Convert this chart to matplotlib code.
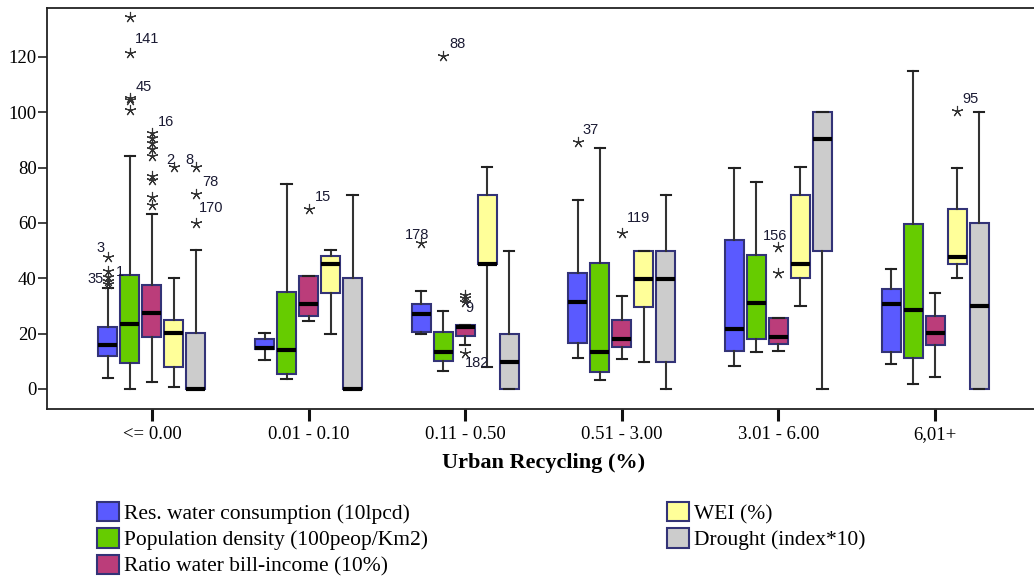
import numpy as np
import matplotlib
matplotlib.use("Agg")
import matplotlib.pyplot as plt
from matplotlib.patches import Patch

categories = ["<= 0.00", "0.01 - 0.10", "0.11 - 0.50", "0.51 - 3.00", "3.01 - 6.00", "6,01+"]
series_names = ["Res. water consumption (10lpcd)", "Population density (100peop/Km2)",
                "Ratio water bill-income (10%)", "WEI (%)", "Drought (index*10)"]

# box stats per series, one value per category: whisker low, q1, median, q3, whisker high
res_lo = [4.0, 10.5, 19.8, 11.1, 8.4, 9.0]
res_q1 = [12.0, 14.3, 20.5, 16.5, 13.8, 13.3]
res_med = [15.8, 14.7, 27.2, 31.6, 21.6, 30.6]
res_q3 = [22.5, 18.1, 30.7, 41.8, 53.8, 36.3]
res_hi = [36.4, 20.1, 35.5, 68.3, 80.0, 43.5]

pop_lo = [0.0, 3.5, 6.5, 3.3, 13.5, 1.7]
pop_q1 = [9.5, 5.3, 10.1, 6.3, 18.0, 11.1]
pop_med = [23.5, 14.2, 13.5, 13.2, 31.2, 28.6]
pop_q3 = [41.2, 34.9, 20.5, 45.7, 48.4, 59.5]
pop_hi = [84.2, 74.0, 28.3, 87.0, 74.8, 115.0]

bill_lo = [2.5, 24.6, 15.9, 10.7, 13.7, 4.5]
bill_q1 = [18.9, 26.5, 19.2, 15.1, 16.3, 15.8]
bill_med = [27.4, 30.8, 22.5, 18.1, 18.7, 20.4]
bill_q3 = [37.6, 40.8, 23.1, 24.9, 25.5, 26.5]
bill_hi = [63.1, 40.8, 23.1, 33.6, 25.5, 34.7]

wei_lo = [0.8, 20.0, 8.1, 9.9, 30.0, 40.0]
wei_q1 = [7.8, 34.8, 45.1, 29.8, 40.0, 45.1]
wei_med = [20.1, 45.1, 45.1, 39.9, 45.2, 47.6]
wei_q3 = [24.9, 48.1, 70.1, 50.0, 70.0, 65.1]
wei_hi = [40.1, 50.1, 80.2, 50.0, 80.1, 80.0]

dro_lo = [0.0, 0.0, 0.0, 0.0, 0.0, 0.0]
dro_q1 = [0.0, 0.0, 0.0, 9.9, 50.0, 0.0]
dro_med = [0.0, 0.0, 9.9, 39.9, 90.2, 30.0]
dro_q3 = [20.1, 40.0, 19.9, 50.0, 100.0, 59.9]
dro_hi = [50.2, 70.1, 50.0, 70.0, 100.0, 100.0]

# extreme values: category index, series index, value, case label
out_group = [0, 0, 0, 0, 0,
             0, 0, 0, 0, 0,
             0, 0, 0, 0, 0, 0, 0, 0, 0,
             0, 0, 0, 0,
             1, 2, 2, 2, 2, 2, 2,
             3, 3, 4, 4, 5]
out_series = [0, 0, 0, 0, 0,
              1, 1, 1, 1, 1,
              2, 2, 2, 2, 2, 2, 2, 2, 2,
              3, 4, 4, 4,
              2, 0, 1, 2, 2, 2, 2,
              0, 2, 2, 2, 3]
out_value = [47.8, 42.8, 40.6, 39.0, 37.8,
             134.3, 121.3, 105.2, 104.3, 100.8,
             92.4, 90.6, 88.8, 86.7, 84.2, 77.0, 75.5, 69.5, 66.5,
             80.1, 80.3, 70.5, 60.1,
             64.9, 52.6, 120.3, 34.0, 32.8, 31.6, 12.9,
             89.4, 56.5, 51.4, 42.0, 100.5]
out_label = ["3", "1", "", "35", "",
             "", "141", "", "45", "",
             "16", "", "", "", "", "", "", "", "",
             "2", "8", "78", "170",
             "15", "178", "88", "", "", "9", "182",
             "37", "119", "156", "", "95"]

# where each case label sits relative to its star (pixels, alignment)
label_place = {"3": (-3, 5, "right"), "1": (8, -5, "left"), "35": (-4, -2, "right"),
               "141": (5, 10, "left"), "45": (6, 9, "left"), "16": (6, 7, "left"),
               "2": (0, 3, "right"), "8": (-2, 3, "right"), "78": (6, 8, "left"),
               "170": (3, 11, "left"), "15": (6, 8, "left"), "178": (-4, 4, "center"),
               "88": (6, 8, "left"), "9": (0, -10, "left"), "182": (0, -14, "left"),
               "37": (5, 8, "left"), "119": (5, 11, "left"), "156": (-3, 7, "center"),
               "95": (5, 8, "left")}

lows = [res_lo, pop_lo, bill_lo, wei_lo, dro_lo]
q1s = [res_q1, pop_q1, bill_q1, wei_q1, dro_q1]
meds = [res_med, pop_med, bill_med, wei_med, dro_med]
q3s = [res_q3, pop_q3, bill_q3, wei_q3, dro_q3]
highs = [res_hi, pop_hi, bill_hi, wei_hi, dro_hi]

colors = ["#5a5aff", "#66cc00", "#bb3d7a", "#ffff99", "#cccccc"]
edge = "#333377"
step = 0.1405

fig = plt.figure(figsize=(10.34, 5.76), dpi=100)
ax = fig.add_axes([47 / 1034, (576 - 409.3) / 576, 993 / 1034, 401.3 / 576])

for si in range(len(series_names)):
    stats = []
    for gi in range(len(categories)):
        fl = [v for g, s, v in zip(out_group, out_series, out_value) if g == gi and s == si]
        stats.append(dict(whislo=lows[si][gi], q1=q1s[si][gi], med=meds[si][gi],
                          q3=q3s[si][gi], whishi=highs[si][gi], fliers=fl))
    pos = np.arange(len(categories)) + (si - 2) * step
    ax.bxp(stats, positions=pos, widths=0.121, capwidths=0.066, patch_artist=True,
           manage_ticks=False,
           boxprops=dict(facecolor=colors[si], edgecolor=edge, linewidth=1.5),
           medianprops=dict(color="black", linewidth=3),
           whiskerprops=dict(color="#333333", linewidth=1.5),
           capprops=dict(color="#222222", linewidth=1.5),
           flierprops=dict(marker=(5, 2, 0), markersize=8, markeredgecolor="#333333",
                           markeredgewidth=0.8, linestyle="none"))

for g, s, v, lab in zip(out_group, out_series, out_value, out_label):
    if lab == "":
        continue
    dx, dy, ha = label_place[lab]
    ax.annotate(lab, (g + (s - 2) * step, v), xytext=(dx, dy), textcoords="offset pixels",
                ha=ha, va="baseline", fontsize=10.5, family="Liberation Sans", color="#1a1a33")

ax.set_xlim(-0.670, 5.670)
ax.set_ylim(-7.34, 137.7)
ax.set_xticks(range(len(categories)))
ax.set_xticklabels(categories, family="Liberation Serif", fontsize=13.5)
ax.set_yticks([0, 20, 40, 60, 80, 100, 120])
ax.set_yticklabels(["0", "20", "40", "60", "80", "100", "120"], family="Liberation Serif", fontsize=13.5)
ax.tick_params(axis="x", direction="out", length=8.5, width=2.2, pad=3.5, color="#111111")
ax.tick_params(axis="y", direction="out", length=6.5, width=1.2, pad=1, color="#222222")
for sp in ax.spines.values():
    sp.set_linewidth(1.3)
    sp.set_color("#222222")
ax.set_xlabel("Urban Recycling (%)", family="Liberation Serif", fontsize=16,
              fontweight="bold", labelpad=7)

handles = [Patch(facecolor=c, edgecolor=edge, linewidth=1.5) for c in colors]
leg_kw = dict(loc="upper left", frameon=False, borderpad=0, borderaxespad=0,
              handlelength=1.0, handleheight=1.0, handletextpad=0.25, labelspacing=0.2,
              prop=dict(family="Liberation Serif", size=15.5))
fig.legend(handles[:3], series_names[:3], bbox_to_anchor=(97 / 1034, 1 - 502 / 576), **leg_kw)
fig.legend(handles[3:], series_names[3:], bbox_to_anchor=(667 / 1034, 1 - 502 / 576), **leg_kw)

fig.savefig("out.png", dpi=100)
